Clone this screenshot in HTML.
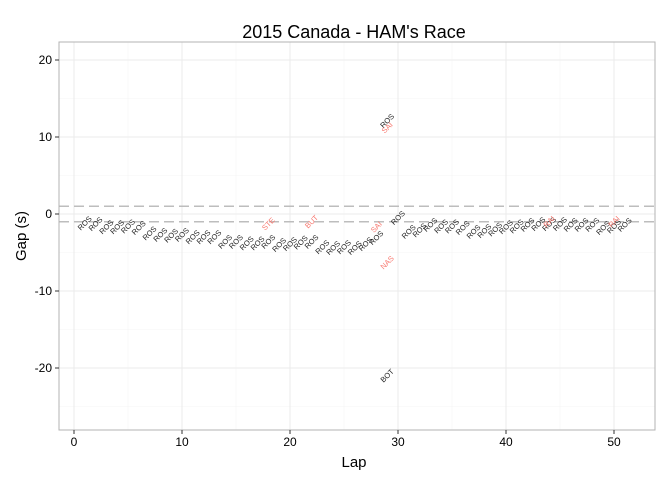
<!DOCTYPE html>
<html><head><meta charset="utf-8"><style>
body{margin:0;background:#fff;}
svg{font-family:"Liberation Sans",sans-serif;display:block}
</style></head><body>
<svg id="chart" width="672" height="480" xmlns="http://www.w3.org/2000/svg">
<text x="354" y="38" text-anchor="middle" font-size="18" fill="#000">2015 Canada - HAM's Race</text>
<g id="grid"></g>
<g id="marks"></g>
<rect x="59" y="42" width="596" height="388" fill="none" stroke="#b3b3b3" stroke-width="1"/>
<g id="axes"></g>
<text x="354" y="467" text-anchor="middle" font-size="15">Lap</text>
<text x="26" y="236" text-anchor="middle" font-size="15" transform="rotate(-90 26 236)">Gap (s)</text>
</svg>
<script>
const laps = [1,2,3,4,5,6,7,8,9,10,11,12,13,14,15,16,17,18,19,20,21,22,23,24,25,26,27,28,29,30,31,32,33,34,35,36,37,38,39,40,41,42,43,44,45,46,47,48,49,50,51];
const rosGaps = [-1.2,-1.3,-1.7,-1.7,-1.6,-1.8,-2.5,-2.7,-2.8,-2.7,-3.0,-3.0,-3.0,-3.6,-3.6,-3.8,-3.8,-3.6,-4.0,-3.9,-3.7,-3.6,-4.3,-4.4,-4.3,-4.4,-3.9,-3.1,12.1,-0.5,-2.3,-2.1,-1.4,-1.6,-1.6,-1.8,-2.3,-2.2,-2.0,-1.7,-1.6,-1.4,-1.3,-1.3,-1.3,-1.4,-1.4,-1.4,-1.8,-1.6,-1.4];
const otherLaps = [18,22,28,29,29,29,44,50];
const otherNames = ["STE","BUT","SAI","NAS","SAI","BOT","RAI","RAI"];
const otherGaps = [-1.3,-1.0,-1.7,-6.3,11.2,-21.0,-1.0,-1.0];
const otherColors = ["red","red","red","red","red","black","red","red"];
const xTicks = [0,10,20,30,40,50];
const yTicks = [-20,-10,0,10,20];
const refLines = [1,-1];

const NS="http://www.w3.org/2000/svg";
const X0=59,X1=655,Y0=42,Y1=430;
const x=v=>74+(v-0)*10.8;
const y=v=>214-v*7.7;
function mk(tag,attrs,parent){const e=document.createElementNS(NS,tag);for(const k in attrs)e.setAttribute(k,attrs[k]);parent.appendChild(e);return e;}
const grid=document.getElementById('grid'),marks=document.getElementById('marks'),axes=document.getElementById('axes');
mk('rect',{x:X0,y:Y0,width:X1-X0,height:Y1-Y0,fill:'#fff'},grid);
for(let v=-5;v<=55;v+=10){if(x(v)>X0&&x(v)<X1){const l=mk('line',{x1:x(v),x2:x(v),y1:Y0,y2:Y1,stroke:'#f5f5f5','stroke-width':0.6},grid);

}}
for(let v=-25;v<=25;v+=10){if(y(v)>Y0&&y(v)<Y1){const l=mk('line',{x1:X0,x2:X1,y1:y(v),y2:y(v),stroke:'#f5f5f5','stroke-width':0.6},grid);

}}
xTicks.forEach(t=>{const l=mk('line',{x1:x(t),x2:x(t),y1:Y0,y2:Y1,stroke:'#ebebeb','stroke-width':1},grid);


const tk=mk('line',{x1:x(t),x2:x(t),y1:Y1,y2:Y1+4,stroke:'#333'},axes);


const tx=mk('text',{x:x(t),y:Y1+16,'text-anchor':'middle','font-size':12,fill:'#000'},axes);tx.textContent=t;

});
yTicks.forEach(t=>{const l=mk('line',{x1:X0,x2:X1,y1:y(t),y2:y(t),stroke:'#ebebeb','stroke-width':1},grid);


const tk=mk('line',{x1:X0-4,x2:X0,y1:y(t),y2:y(t),stroke:'#333'},axes);


const tx=mk('text',{x:X0-7,y:y(t)+4,'text-anchor':'end','font-size':12,fill:'#000'},axes);tx.textContent=t;

});
refLines.forEach(r=>{const l=mk('line',{x1:X0,x2:X1,y1:y(r),y2:y(r),stroke:'#bdbdbd','stroke-width':1.5,'stroke-dasharray':'10,5'},marks);

});
function lab(lx,g,name,color){const t=mk('text',{x:x(lx),y:y(g),'text-anchor':'middle','dominant-baseline':'central','font-size':7.5,fill:color==='red'?'#f8766d':'#222',transform:`rotate(-45 ${x(lx)} ${y(g)})`},marks);t.textContent=name;return t;}
laps.forEach((l,i)=>{const t=lab(l,rosGaps[i],'ROS','black');

});
otherLaps.forEach((l,i)=>{const t=lab(l,otherGaps[i],otherNames[i],otherColors[i]);

});
</script>
</body></html>
